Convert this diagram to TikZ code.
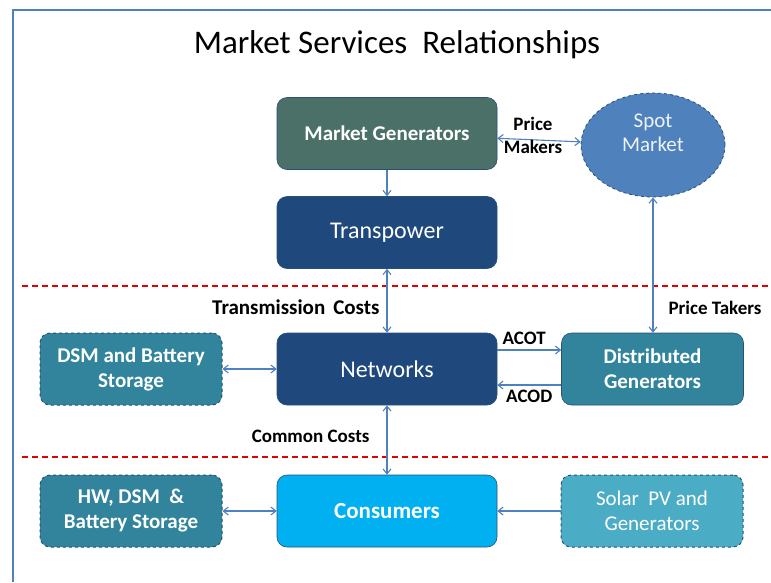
\documentclass[tikz,border=0pt]{standalone}
\usepackage{fontspec}
\setmainfont{Carlito}
\usetikzlibrary{shapes.geometric,arrows.meta,positioning}

\definecolor{framecol}{RGB}{79,129,189}
\definecolor{arrowcol}{RGB}{79,129,189}
\definecolor{gencol}{RGB}{74,112,104}
\definecolor{netcol}{RGB}{31,72,124}
\definecolor{tealcol}{RGB}{49,132,155}
\definecolor{solarcol}{RGB}{75,172,198}
\definecolor{conscol}{RGB}{0,176,240}
\definecolor{spotcol}{RGB}{79,129,189}
\definecolor{edgecol}{RGB}{40,80,120}

\begin{document}
\begin{tikzpicture}[
            x=1pt, y=-1pt,
            every node/.style={on grid},
            mainbox/.style={rectangle, rounded corners=10pt, minimum width=220pt,
                minimum height=72pt, draw=edgecol, line width=0.6pt, text=white,
                align=center},
            sidebox/.style={mainbox, minimum width=182pt},
            dashbox/.style={sidebox, dashed, line width=1pt},
            big/.style={font=\fontsize{24}{28}\selectfont},
            bigb/.style={font=\fontsize{23}{28}\selectfont\bfseries},
            mid/.style={font=\fontsize{21}{25}\selectfont\bfseries},
            midr/.style={font=\fontsize{21}{25}\selectfont},
            lbl/.style={font=\fontsize{19}{23}\selectfont\bfseries, align=center},
            link/.style={draw=arrowcol, line width=1.1pt, arrows={-Straight Barb[length=5pt,width=8pt]}},
            blink/.style={link, arrows={Straight Barb[length=5pt,width=8pt]-Straight Barb[length=5pt,width=8pt]}},
            divider/.style={draw=red!90!black, line width=1.2pt, dash pattern=on 6pt off 4pt}
        ]
        \useasboundingbox (0,0) rectangle (771,582);

        % Frame and title %
        \draw[framecol, line width=2pt] (13,582) -- (13,10) -- (771,10);
        \node[font=\fontsize{33}{36}\selectfont] (title) at (397,45) {Market Services\ \ Relationships};

        % Dividers %
        \draw[divider] (22,286) -- (771,286);
        \draw[divider] (22,457) -- (771,457);

        % Centre column %
        \node[mainbox, fill=gencol, mid] (mg) at (387,133.5) {Market Generators};
        \node[mainbox, fill=netcol, below=99pt of mg, big] (tp) {Transpower};
        \node[mainbox, fill=netcol, below=136.5pt of tp, big] (net) {Networks};
        \node[mainbox, fill=conscol, below=142pt of net, bigb] (cons) {Consumers};

        % Side boxes %
        \node[dashbox, fill=tealcol, left=256pt of net, mid] (dsm) {DSM and Battery\\Storage};
        \node[dashbox, fill=tealcol, left=256pt of cons, mid] (hw) {HW, DSM\ \ \&\\Battery Storage};
        \node[sidebox, fill=tealcol, right=265.5pt of net, mid] (dg) {Distributed\\Generators};
        \node[dashbox, fill=solarcol, right=265pt of cons, midr] (solar) {Solar\ \ PV and\\Generators};
        \node[ellipse, fill=spotcol, draw=edgecol, dashed, line width=0.8pt, minimum width=144pt,
              minimum height=104pt, text=white!90!spotcol, align=center,
              font=\fontsize{21}{24}\selectfont] (spot) at (653,145) {Spot\\Market\\\mbox{}};

        % Draw arrows %
        \draw[blink] (mg) -- node[lbl, black, xshift=-6pt, yshift=5pt] (pm) {Price\\Makers} (spot);
        \draw[link] (mg) -- (tp);
        \draw[blink] (tp) -- (net);
        \node[lbl, anchor=east, font=\fontsize{21}{23}\selectfont\bfseries] (tclbl) at (383,307) {Transmission\hspace{8pt}Costs};
        \draw[blink] (spot.south) -- (spot.south |- dg.north);
        \node[lbl, anchor=west] (ptlbl) at (665,308) {Price Takers};
        \draw[blink] (dsm) -- (net);
        \draw[link] ([yshift=19pt]net.east) coordinate (acot1) -- (acot1 -| dg.west)
            node[lbl, pos=0.42, above=1pt, anchor=south] (acot) {ACOT};
        \draw[link] ([yshift=-16pt]dg.west) coordinate (acod1) -- (acod1 -| net.east)
            node[lbl, pos=0.5, below=1pt, anchor=north] (acod) {ACOD};
        \draw[blink] (net) -- (cons);
        \node[lbl, anchor=east] (cclbl) at (373,436) {Common Costs};
        \draw[blink] (hw) -- (cons);
        \draw[link] (solar) -- (cons);
\end{tikzpicture}
\end{document}
